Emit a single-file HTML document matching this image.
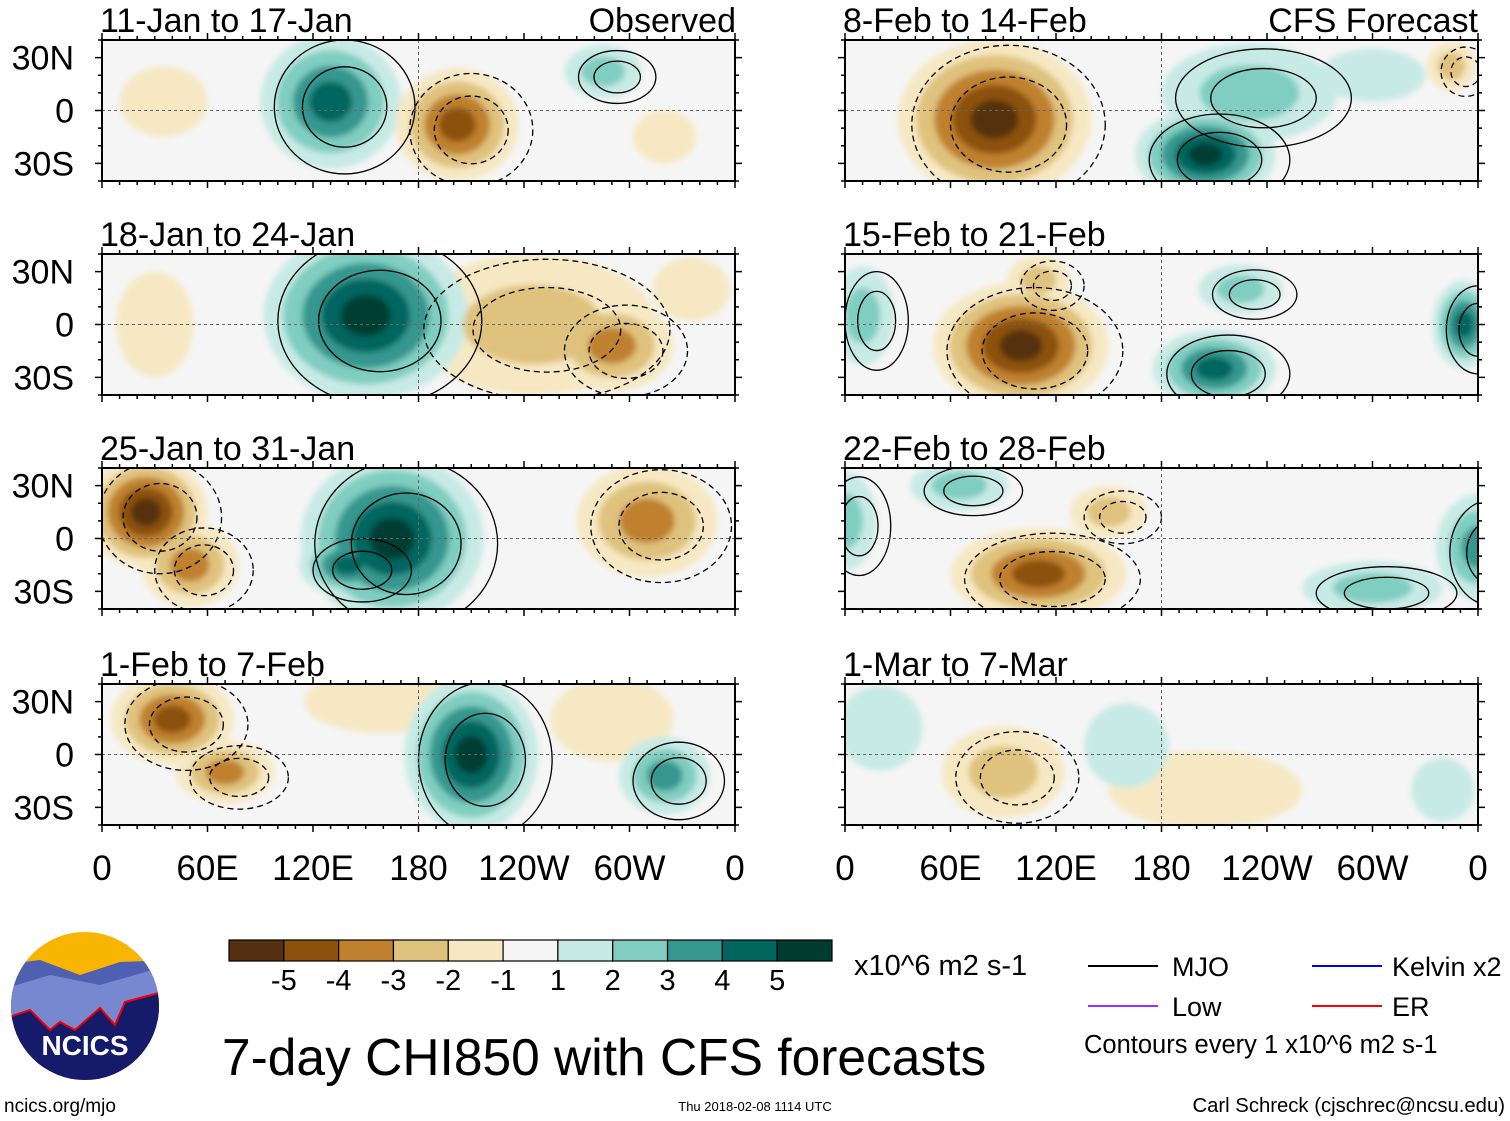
<!DOCTYPE html>
<html><head><meta charset="utf-8"><style>
body{margin:0;background:#fff;}
svg{display:block;font-family:"Liberation Sans",sans-serif;}
</style></head><body>
<svg id="c" width="1510" height="1121" viewBox="0 0 1510 1121">
<defs><filter id="bl"><feGaussianBlur stdDeviation="3"/></filter></defs>
</svg>
<script>
const NS="http://www.w3.org/2000/svg";
const svg=document.getElementById('c');
// data
const panelTitles=["11-Jan to 17-Jan","18-Jan to 24-Jan","25-Jan to 31-Jan","1-Feb to 7-Feb","8-Feb to 14-Feb","15-Feb to 21-Feb","22-Feb to 28-Feb","1-Mar to 7-Mar"];
const levelColors={"-5":"#553010","-4":"#8c510a","-3":"#bf812d","-2":"#dfc27d","-1":"#f6e8c3","1":"#c7eae5","2":"#80cdc1","3":"#35978f","4":"#01665e","5":"#003c30"};
const levels=[-5,-4,-3,-2,-1,1,2,3,4,5];
const lonTicks=["0","60E","120E","180","120W","60W","0"];
const latTicks=["30N","0","30S"];
// blob anomalies per panel: [lonCenter(0-360), latCenter, level, lonRadius(deg), latRadius(deg)]
const blobs0=[[130,5,4,40,38],[202,-8,-4,35,32],[285,22,2,22,15],[35,5,-1,25,20],[320,-15,-1,18,15]];
const blobs1=[[150,5,5,58,48],[290,-12,-3,35,26],[245,0,-2,70,40],[335,20,-1,22,18],[30,0,-1,22,30]];
const blobs2=[[165,0,5,52,48],[25,15,-5,35,32],[50,-15,-3,28,24],[310,10,-3,40,32],[140,-15,4,28,18]];
const blobs3=[[40,20,-4,35,26],[70,-10,-3,28,18],[210,0,5,38,44],[320,-12,3,26,22],[160,30,-1,45,18],[290,20,-1,35,24]];
const blobs4=[[85,-5,-5,55,45],[205,-25,5,40,26],[300,20,1,30,15],[230,10,2,50,28],[345,25,-2,14,14]];
const blobs5=[[100,-12,-5,50,36],[210,-25,4,35,22],[352,0,4,18,25],[225,20,2,24,14],[10,5,2,18,28],[110,25,-2,18,14]];
const blobs6=[[110,-20,-4,50,26],[150,15,-2,22,15],[360,-5,3,24,30],[0,10,2,18,28],[300,-28,2,40,15],[65,30,2,28,14]];
const blobs7=[[90,-10,-2,35,26],[205,-20,-1,55,22],[20,15,1,24,24],[340,-20,1,18,18],[160,5,1,24,24]];
const allBlobs=[blobs0,blobs1,blobs2,blobs3,blobs4,blobs5,blobs6,blobs7];

function el(tag,attrs,parent){const e=document.createElementNS(NS,tag);for(const k in attrs)e.setAttribute(k,attrs[k]);(parent||svg).appendChild(e);return e;}
const colX=[102,845], rowY=[40,254,468,684], PW=633, PH=141;
function xs(x0,lon){return x0+lon/360*PW;}
function ys(y0,lat){return y0+PH/2-lat/40*(PH/2);}

for(let p=0;p<8;p++){
  const x0=colX[p<4?0:1], y0=rowY[p%4];
  const g=el('g',{});
  
  
  const cp=el('clipPath',{id:'cp'+p},g);
  el('rect',{x:x0,y:y0,width:PW,height:PH},cp);
  el('rect',{x:x0,y:y0,width:PW,height:PH,fill:'#f5f5f5'},g);
  const fg=el('g',{'clip-path':'url(#cp'+p+')'},g);
  const fill=el('g',{filter:'url(#bl)'},fg);
  const bl=allBlobs[p].slice().sort((a,b)=>Math.abs(a[2])-Math.abs(b[2]));
  const layers=[];
  bl.forEach(b=>{const n=Math.abs(b[2]),s=Math.sign(b[2]);for(let k=1;k<=n;k++){layers.push({b:b,k:k,n:n,s:s});}});
  layers.sort((a,b)=>a.k-b.k);
  layers.forEach(L=>{
    const f=(L.n-L.k+1.3)/(L.n+0.3);
    const e=el('ellipse',{cx:xs(x0,L.b[0]),cy:ys(y0,L.b[1]),rx:L.b[3]/360*PW*f,ry:L.b[4]/40*(PH/2)*f,fill:levelColors[String(L.k*L.s)]},fill);
    
    
  });
  bl.filter(b=>Math.abs(b[2])>=2).forEach(b=>{
    [1.0,0.6].forEach(f=>{
      const e=el('ellipse',{cx:xs(x0,b[0]+8),cy:ys(y0,b[1]-3),rx:b[3]/360*PW*f,ry:b[4]/40*(PH/2)*f,fill:'none',stroke:'#000','stroke-width':1.3,'stroke-dasharray':b[2]<0?'6,4':'none'},fg);
      
      
    });
  });
  el('line',{x1:x0,x2:x0+PW,y1:ys(y0,0),y2:ys(y0,0),stroke:'#666','stroke-dasharray':'3,3'},fg);
  el('line',{x1:xs(x0,180),x2:xs(x0,180),y1:y0,y2:y0+PH,stroke:'#666','stroke-dasharray':'3,3'},fg);
  el('rect',{x:x0,y:y0,width:PW,height:PH,fill:'none',stroke:'#000','stroke-width':2},g);
  for(let lon=0;lon<=360;lon+=10){const x=xs(x0,lon),len=lon%60==0?7:4;
    el('line',{x1:x,x2:x,y1:y0,y2:y0-len,stroke:'#000','stroke-width':1.5},g);
    el('line',{x1:x,x2:x,y1:y0+PH,y2:y0+PH+len,stroke:'#000','stroke-width':1.5},g);}
  for(let lat=-40;lat<=40;lat+=10){const y=ys(y0,lat),len=lat%30==0?7:4;
    el('line',{x1:x0,x2:x0-len,y1:y,y2:y,stroke:'#000','stroke-width':1.5},g);
    el('line',{x1:x0+PW,x2:x0+PW+len,y1:y,y2:y,stroke:'#000','stroke-width':1.5},g);}
  const t=el('text',{x:x0-2,y:y0-8,'font-size':34},g);t.textContent=panelTitles[p];
  
  if(p<4){[30,0,-30].forEach((lat,i)=>{const tt=el('text',{x:74,y:ys(y0,lat)+12,'font-size':34,'text-anchor':'end'},g);tt.textContent=latTicks[i];
    });}
}
const o=el('text',{x:736,y:32,'font-size':34,'text-anchor':'end'});o.textContent="Observed";

const cf=el('text',{x:1478,y:32,'font-size':34,'text-anchor':'end'});cf.textContent="CFS Forecast";

[0,1].forEach(c=>{lonTicks.forEach((l,i)=>{const t=el('text',{x:colX[c]+i*60/360*PW,y:880,'font-size':35,'text-anchor':'middle'});t.textContent=l;
  });});
const cbX=229,cbW=603/11;
const cbCols=["#553010","#8c510a","#bf812d","#dfc27d","#f6e8c3","#f5f5f5","#c7eae5","#80cdc1","#35978f","#01665e","#003c30"];
cbCols.forEach((c,i)=>{const r=el('rect',{x:cbX+i*cbW,y:940,width:cbW,height:21,fill:c,stroke:'#000','stroke-width':1.2});
  });
levels.forEach((l,i)=>{const t=el('text',{x:cbX+(i+1)*cbW,y:990,'font-size':29,'text-anchor':'middle'});t.textContent=l;
  });
function txt(x,y,s,str,name,anchor){const t=el('text',{x:x,y:y,'font-size':s,'text-anchor':anchor||'start'});t.textContent=str;return t;}
txt(854,975,29,"x10^6 m2 s-1","units-label");
txt(222,1075,51.5,"7-day CHI850 with CFS forecasts","chart-title");
[[1088,966,'#000','MJO',1172],[1088,1006,'#9b30ff','Low',1172],[1312,966,'#0000ff','Kelvin x2',1392],[1312,1006,'#ff0000','ER',1392]].forEach(L=>{
  const ln=el('line',{x1:L[0],x2:L[0]+70,y1:L[1],y2:L[1],stroke:L[2],'stroke-width':2});
  
  txt(L[4],L[1]+10,27,L[3],'legend-entry');});
txt(1084,1053,25.5,"Contours every 1 x10^6 m2 s-1","contour-note");
txt(4,1112,19,"ncics.org/mjo","ncics-url");
txt(755,1111,13,"Thu 2018-02-08 1114 UTC","timestamp","middle");
txt(1505,1112,20.3,"Carl Schreck (cjschrec@ncsu.edu)","author","end");
const lg=el('g',{});
el('clipPath',{id:'lc'},lg).appendChild(document.createElementNS(NS,'circle'));
const lcc=lg.querySelector('#lc circle');lcc.setAttribute('cx',85);lcc.setAttribute('cy',1006);lcc.setAttribute('r',74);
const li=el('g',{'clip-path':'url(#lc)'},lg);
el('rect',{x:0,y:930,width:170,height:160,fill:'#f7b500'},li);
el('path',{d:'M0 965 L40 960 L80 975 L120 962 L170 960 L170 1090 L0 1090Z',fill:'#5060b0'},li);
el('path',{d:'M0 990 L50 975 L100 985 L170 965 L170 1090 L0 1090Z',fill:'#7888d0'},li);
el('path',{d:'M0 1020 L30 1010 L50 1030 L60 1022 L75 1030 L100 1008 L115 1025 L125 1002 L170 990 L170 1090 L0 1090Z',fill:'#151a6a',stroke:'#e00','stroke-width':2},li);
const nt=el('text',{x:85,y:1055,'font-size':28,'font-weight':'bold',fill:'#fff','text-anchor':'middle'},lg);nt.textContent="NCICS";
</script>
</body></html>
